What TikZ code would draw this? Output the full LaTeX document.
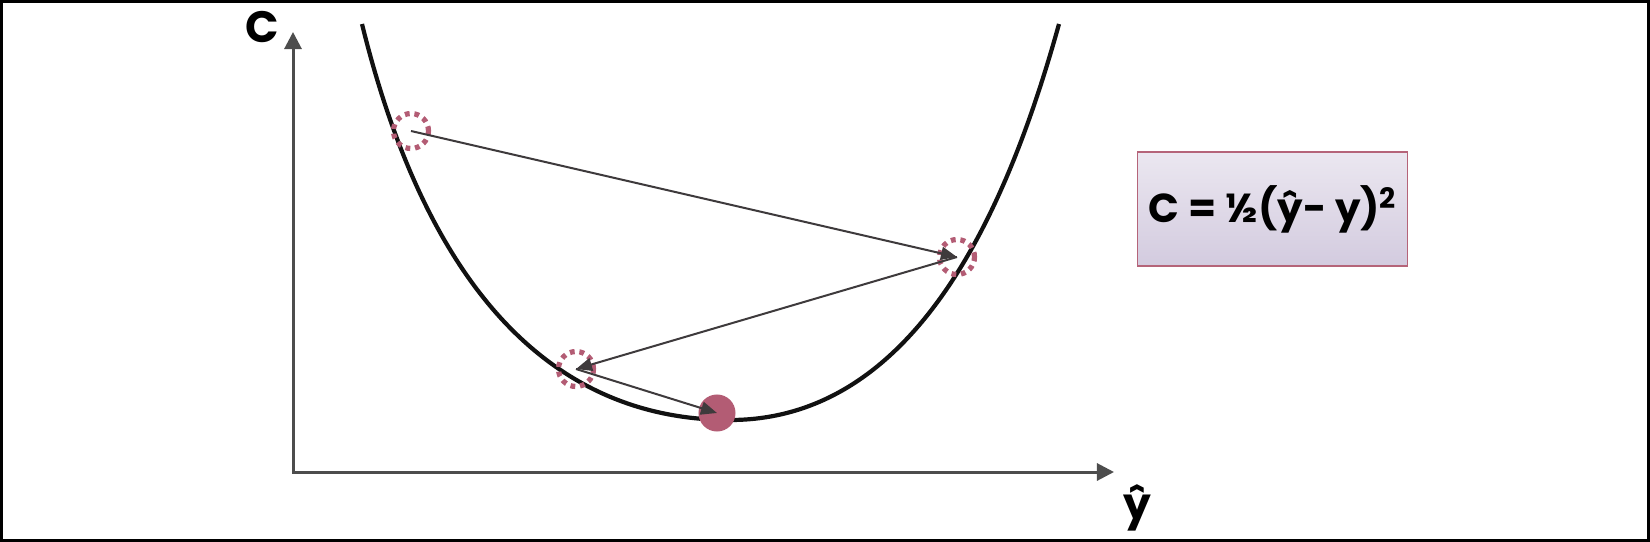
\documentclass[tikz,border=0pt]{standalone}
\usepackage{fontspec}
\setmainfont{Poppins}
\usetikzlibrary{arrows.meta, positioning}
\definecolor{costink}{HTML}{111111}
\definecolor{axisgray}{HTML}{4D4D4D}
\definecolor{stepgray}{HTML}{3E3A3C}
\definecolor{dotpink}{HTML}{B35C74}
\definecolor{boxtop}{HTML}{EBE7F0}
\definecolor{boxbot}{HTML}{D3CBDF}
\definecolor{boxbd}{HTML}{B56479}
\newcommand{\sqsup}{\raisebox{0.62ex}{\fontsize{8}{8}\selectfont 2}}
\tikzset{
  axis/.style={draw=axisgray, line width=0.03cm,
    {Triangle[length=0.17cm, width=0.17cm]}-{Triangle[length=0.17cm, width=0.17cm]}},
  costcurve/.style={draw=costink, line width=0.042cm},
  guess/.style={circle, draw=dotpink, line width=0.052cm, dash pattern=on 0.048cm off 0.048cm,
    minimum size=0.35cm, inner sep=0pt},
  ball/.style={circle, fill=dotpink, minimum size=0.37cm, inner sep=0pt},
  hop/.style={draw=stepgray, line width=0.02cm, -{Triangle[length=0.16cm, width=0.13cm]}},
  formula/.style={draw=boxbd, line width=0.012cm, top color=boxtop, bottom color=boxbot,
    minimum width=2.57cm, minimum height=1.14cm, font=\bfseries\fontsize{11.5}{14}\selectfont},
  axlabel/.style={font=\bfseries\fontsize{12.5}{15}\selectfont}
}

\begin{document}
\begin{tikzpicture}[x=0.01cm, y=-0.01cm]
\useasboundingbox (0,0) rectangle (1650,542);
\draw[line width=0.025cm] (1.25,1.25) rectangle (1648.5,540.5);
% axes
\coordinate (ytip) at (293,32);
\coordinate (orig) at (293,472);
\coordinate (xtip) at (1114,472);
\draw[axis] (ytip) -- (orig) -- (xtip);
\node[axlabel] (clabel) at (262,27) {C};
\node[axlabel] (yhat) at (1137,508) {ŷ};
% cost curve
\draw[costcurve] (362,24) .. controls (430,300) and (560,420) .. (730,420)
  .. controls (920,420) and (1010,200) .. (1059,24);
% guesses
\node[guess] (g1) at (411,131) {};
\node[guess] (g2) at (957,257) {};
\node[guess] (g3) at (576,369) {};
\node[ball] (best) at (717,413) {};
\draw[hop] (g1.center) -- (g2.center);
\draw[hop] (g2.center) -- (g3.center);
\draw[hop] (g3.center) -- (best.center);
% formula
\node[formula] (cost) at (1272.5,209) {C = ½(ŷ- y)\sqsup};
\end{tikzpicture}
\end{document}
